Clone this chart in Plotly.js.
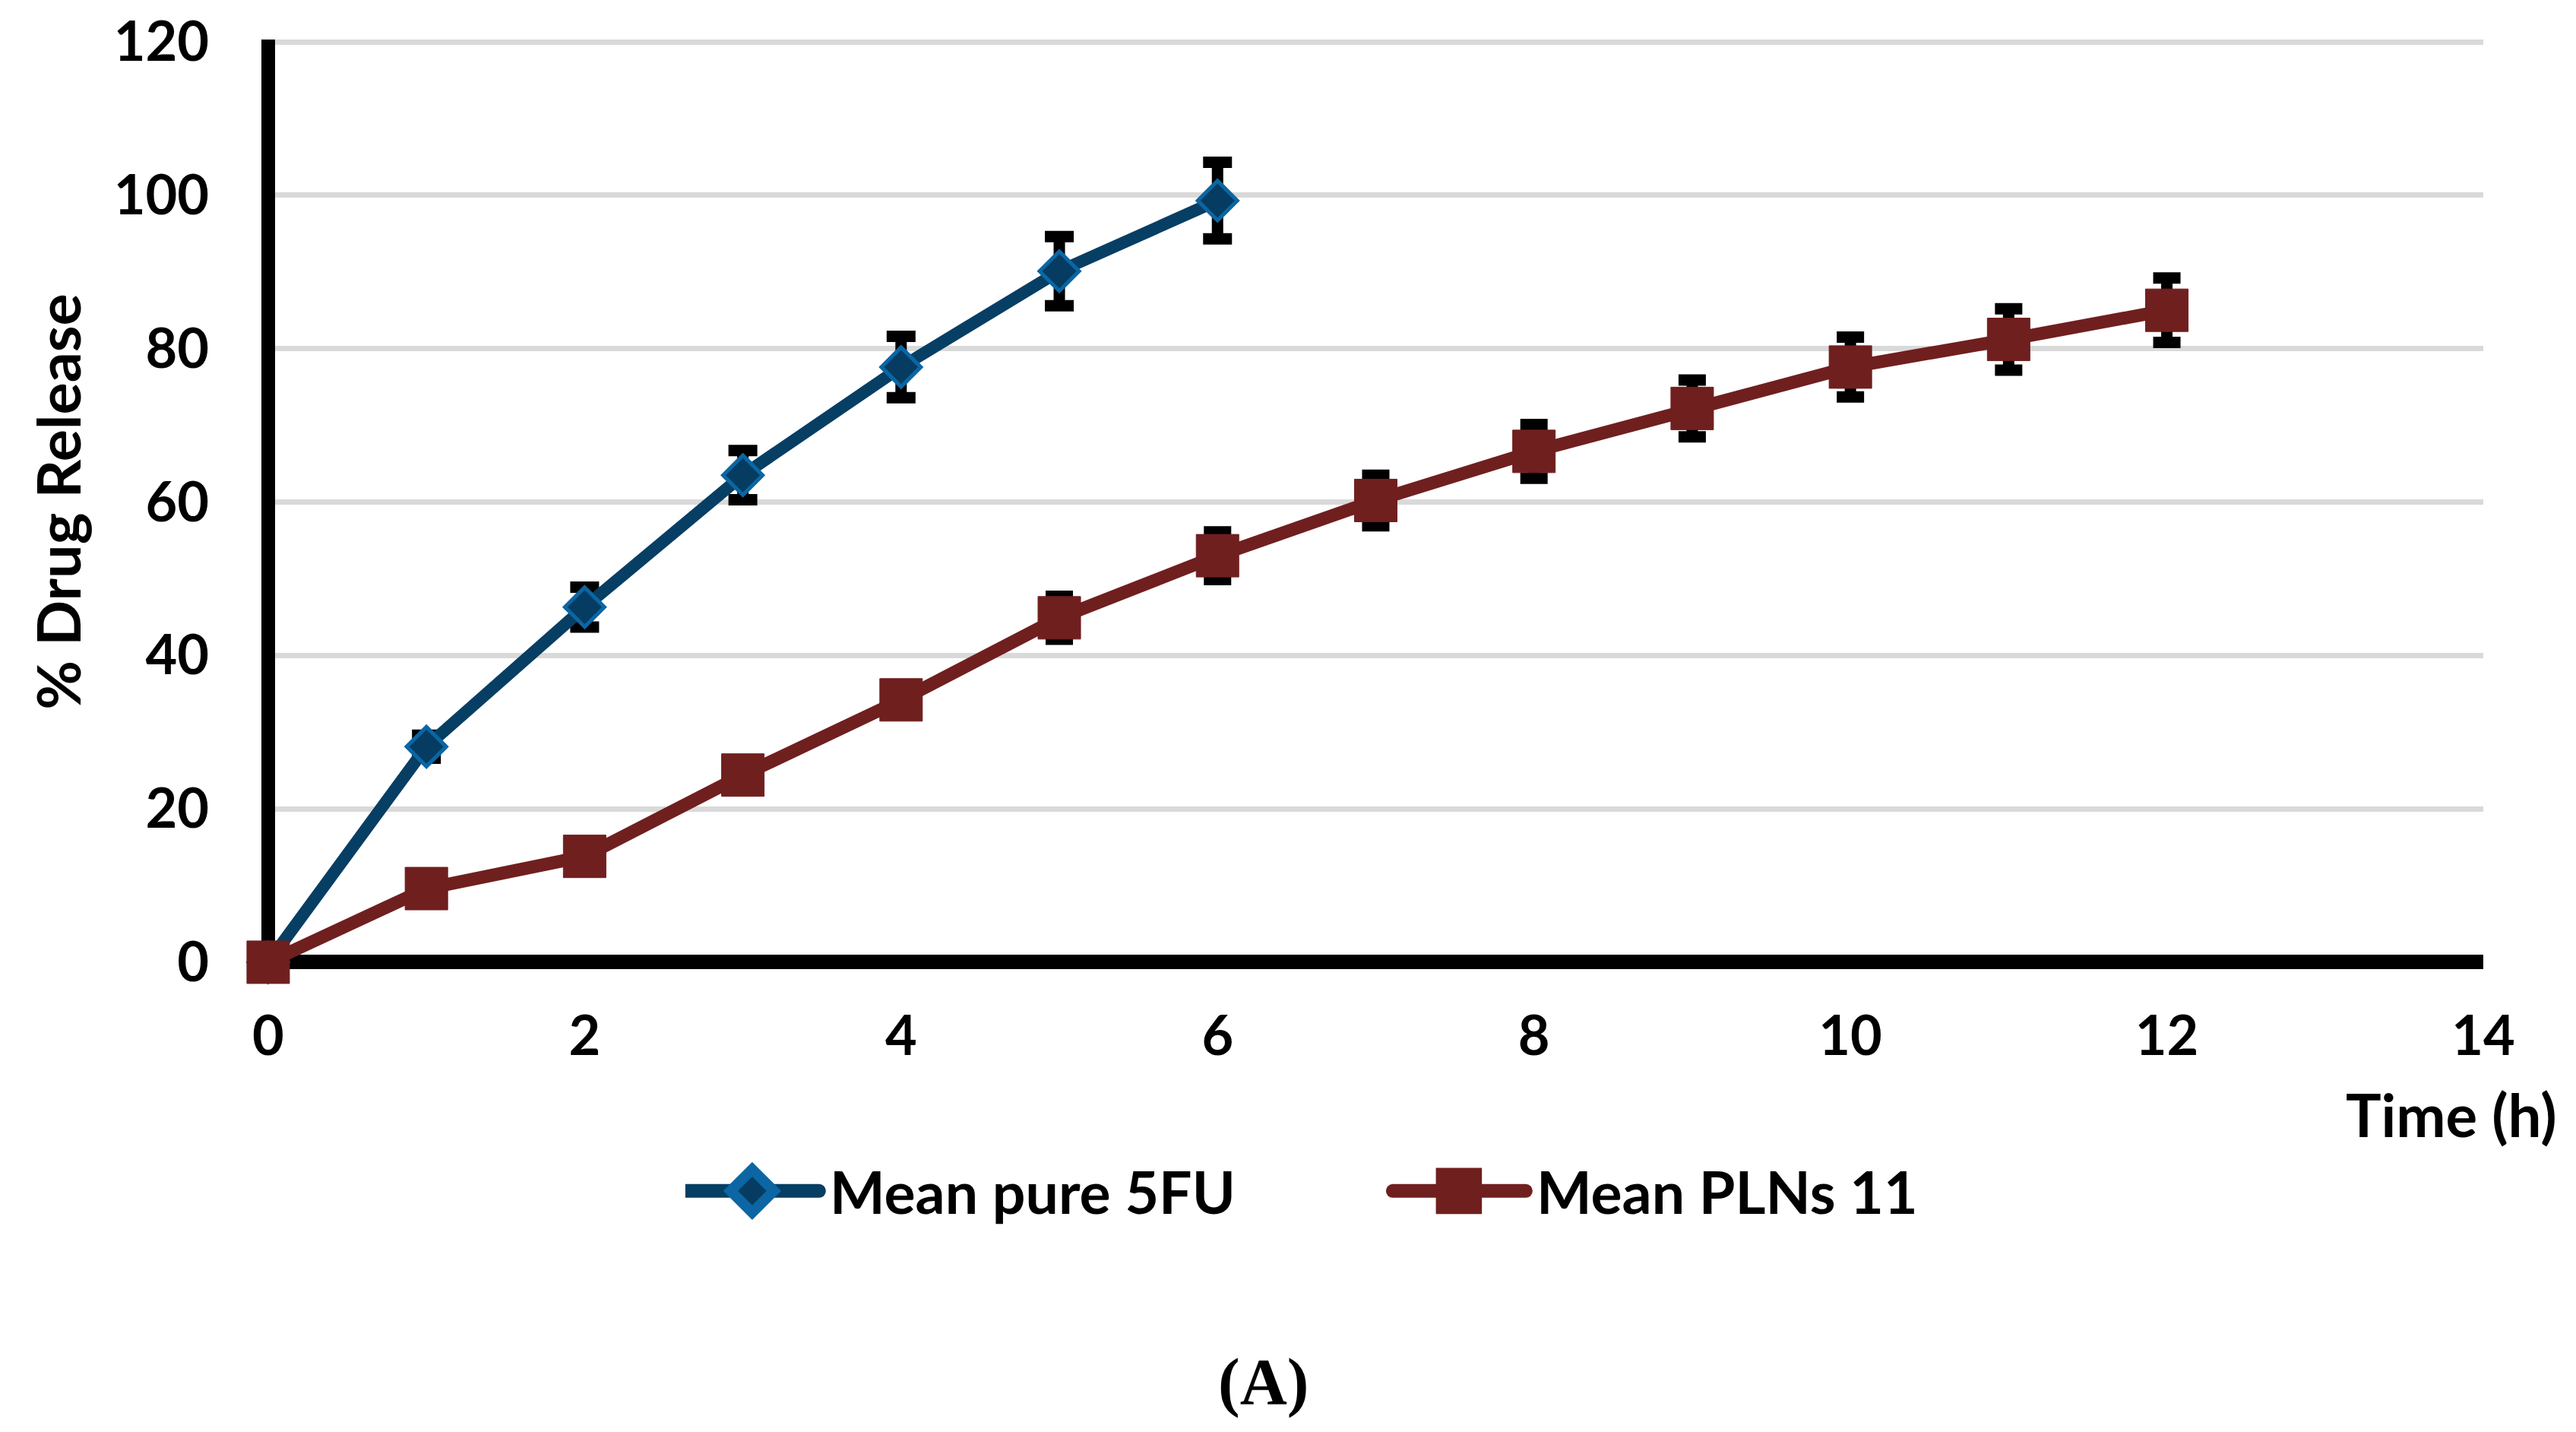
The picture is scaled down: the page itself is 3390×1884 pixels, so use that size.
<!DOCTYPE html>
<html>
<head>
<meta charset="utf-8">
<script src="https://cdn.plot.ly/plotly-3.0.1.min.js"></script>
<style>
  html, body { margin: 0; padding: 0; background: #ffffff; }
  #chart { width: 3390px; height: 1884px; }
</style>
</head>
<body>
<div id="chart"></div>
<script>
// ---- data ----
const timePure = [0, 1, 2, 3, 4, 5, 6];
const pure5FU = [0, 28.1, 46.3, 63.5, 77.6, 90.1, 99.3];
const pure5FUErr = [0, 1.5, 2.6, 3.2, 4.0, 4.5, 5.0];

const timePLN = [0, 1, 2, 3, 4, 5, 6, 7, 8, 9, 10, 11, 12];
const plns11 = [0, 9.6, 13.8, 24.4, 34.2, 44.9, 53.0, 60.2, 66.6, 72.2, 77.6, 81.2, 85.0];
const plns11Err = [0, 1.0, 1.2, 1.5, 1.8, 2.8, 3.1, 3.3, 3.5, 3.7, 3.9, 4.0, 4.2];

const seriesNames = ['Mean pure 5FU', 'Mean PLNs 11'];
const xTicks = [0, 2, 4, 6, 8, 10, 12, 14];
const yTicks = [0, 20, 40, 60, 80, 100, 120];

const FONT = 'Lato, "Open Sans", sans-serif';
const FS = 72;

const traces = [
  {
    type: 'scatter', mode: 'lines+markers', cliponaxis: false,
    x: timePure, y: pure5FU, name: seriesNames[0],
    line: { color: '#073E64', width: 16 },
    marker: { symbol: 'diamond', size: 40, color: '#063C62', line: { color: '#0B66A3', width: 5 } },
    error_y: { type: 'data', array: pure5FUErr, visible: true, color: '#000000', thickness: 15, width: 19 }
  },
  {
    type: 'scatter', mode: 'lines+markers', cliponaxis: false,
    x: timePLN, y: plns11, name: seriesNames[1],
    line: { color: '#701F1F', width: 17 },
    marker: { symbol: 'square', size: 56, color: '#701F1F', line: { color: '#701F1F', width: 1 } },
    error_y: { type: 'data', array: plns11Err, visible: true, color: '#000000', thickness: 15, width: 18 }
  }
];

const layout = {
  width: 3390, height: 1884,
  paper_bgcolor: '#ffffff', plot_bgcolor: '#ffffff',
  margin: { l: 344, r: 122, t: 52, b: 609 },
  showlegend: true,
  legend: {
    orientation: 'h', x: 0.1908, xanchor: 'left', y: -0.239, yanchor: 'middle',
    font: { family: FONT, size: 77, color: '#000000', weight: 'bold' },
    itemwidth: 180, entrywidth: 735, traceorder: 'normal'
  },
  xaxis: {
    range: [-0.043, 14], tickvals: xTicks, ticktext: xTicks.map(String),
    showgrid: false, zeroline: true, zerolinecolor: '#000000', zerolinewidth: 18,
    showline: false, ticks: '', ticklabelstandoff: 40,
    tickfont: { family: FONT, size: FS, color: '#000000', weight: 'bold' },
    fixedrange: true
  },
  yaxis: {
    range: [-0.9, 120.3], tickvals: yTicks, ticktext: yTicks.map(String),
    showgrid: true, gridcolor: '#D9D9D9', gridwidth: 7,
    zeroline: true, zerolinecolor: '#000000', zerolinewidth: 19,
    showline: false, ticks: '', ticklabelstandoff: 68,
    tickfont: { family: FONT, size: FS, color: '#000000', weight: 'bold' },
    fixedrange: true
  },
  annotations: [
    {
      text: '% Drug Release', xref: 'paper', yref: 'paper', x: -0.0917, y: 0.503,
      xanchor: 'center', yanchor: 'middle', textangle: -90, showarrow: false,
      font: { family: FONT, size: 79, color: '#000000', weight: 'bold' }
    },
    {
      text: 'Time (h)', xref: 'paper', yref: 'paper', x: 1.034, y: -0.156,
      xanchor: 'right', yanchor: 'middle', showarrow: false,
      font: { family: FONT, size: 78, color: '#000000', weight: 'bold' }
    },
    {
      text: '(A)', xref: 'paper', yref: 'paper', x: 0.451, y: -0.444,
      xanchor: 'center', yanchor: 'middle', showarrow: false,
      font: { family: '"Liberation Serif", "DejaVu Serif", serif', size: 86, color: '#000000', weight: 'bold' }
    }
  ]
};

// legend glyph sizes (px) to mimic the larger legend keys of the reference
const legendMarkerPx = [57, 57];

Plotly.newPlot('chart', traces, layout, { displayModeBar: false, staticPlot: true }).then(function (gd) {
  const groups = gd.querySelectorAll('g.legend g.traces');
  groups.forEach(function (g, i) {
    g.querySelectorAll('g.legendlines path').forEach(function (ln) {
      ln.setAttribute('d', 'M1,0h175');
      ln.style.strokeWidth = '18px';
      ln.style.strokeLinecap = 'round';
    });
    const pts = g.querySelector('g.legendpoints');
    if (pts) {
      const bb = pts.getBBox();
      const cx = bb.x + bb.width / 2, cy = bb.y + bb.height / 2;
      const k = legendMarkerPx[i] / Math.max(bb.width, bb.height);
      pts.setAttribute('transform', 'translate(88,0) scale(' + k + ') translate(' + (-cx) + ',' + (-cy) + ')');
    }
  });
});
</script>
</body>
</html>
